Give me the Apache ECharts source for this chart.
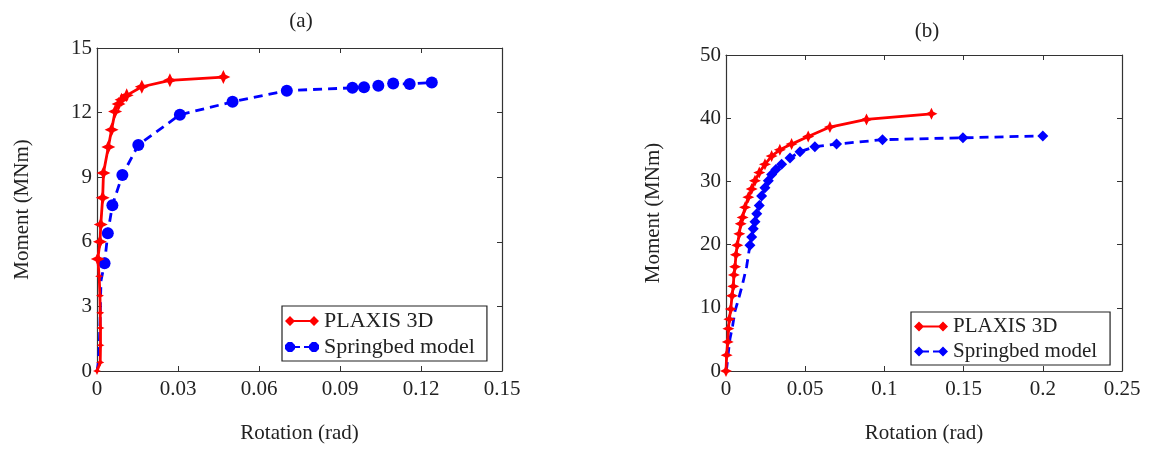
<!DOCTYPE html>
<html>
<head>
<meta charset="utf-8">
<script src="https://cdn.jsdelivr.net/npm/echarts@6/dist/echarts.min.js"></script>
<style>html,body{margin:0;padding:0;background:#fff;}#c{width:1150px;height:449px;}</style>
</head>
<body>
<div id="c"></div>
<script>
// ---- Panel (a) data ----
const plaxisA_rot = [0, 0.0012, 0.0013, 0.0013, 0.0012, 0.0011, 0.0008, 0.0003, 0.0011, 0.0014, 0.0021, 0.0024, 0.0042, 0.0054, 0.0067, 0.008, 0.0091, 0.011, 0.0166, 0.027, 0.0468];
const plaxisA_mom = [0, 0.4, 1.2, 2.0, 2.7, 3.5, 4.4, 5.2, 6.0, 6.8, 8.05, 9.2, 10.4, 11.2, 12.05, 12.4, 12.6, 12.8, 13.2, 13.5, 13.65];
const springA_rot = [0, 0.0004, 0.0008, 0.001, 0.0012, 0.0013, 0.0015, 0.0028, 0.004, 0.0057, 0.0094, 0.0153, 0.0307, 0.0502, 0.0703, 0.0946, 0.0989, 0.1042, 0.1097, 0.1158, 0.124];
const springA_mom = [0, 0.3, 1.0, 1.8, 2.6, 3.4, 4.2, 5.0, 6.4, 7.7, 9.1, 10.5, 11.9, 12.5, 13.02, 13.15, 13.18, 13.25, 13.35, 13.33, 13.4];
// ---- Panel (b) data ----
const plaxisB_rot = [0, 0.0004, 0.0011, 0.0015, 0.0021, 0.003, 0.0038, 0.0046, 0.005, 0.0057, 0.0063, 0.0071, 0.0084, 0.0093, 0.0105, 0.012, 0.0141, 0.0162, 0.0183, 0.021, 0.0246, 0.0288, 0.034, 0.0414, 0.0519, 0.0656, 0.0887, 0.1297];
const plaxisB_mom = [0, 2.5, 4.6, 6.7, 8.2, 9.8, 11.9, 13.4, 15.2, 16.5, 18.4, 19.9, 21.7, 23.3, 24.3, 25.9, 27.5, 28.8, 30.1, 31.4, 32.7, 34.0, 35.0, 35.9, 37.1, 38.6, 39.8, 40.7];
const springB_rot = [0, 0.0004, 0.0015, 0.0025, 0.0042, 0.0057, 0.0078, 0.0105, 0.013, 0.0151, 0.0162, 0.0172, 0.0183, 0.0194, 0.021, 0.0225, 0.0246, 0.0267, 0.0288, 0.0315, 0.0351, 0.0404, 0.0467, 0.0561, 0.0698, 0.0988, 0.1496, 0.2];
const springB_mom = [0, 0.4, 3.0, 5.1, 7.2, 9.5, 11.3, 13.8, 16.5, 19.9, 21.2, 22.5, 23.6, 24.9, 26.2, 27.7, 29.0, 30.1, 31.1, 31.9, 32.7, 33.7, 34.7, 35.5, 35.9, 36.6, 36.9, 37.2];
// ---- tick labels ----
const xTicksA = ['0', '0.03', '0.06', '0.09', '0.12', '0.15'];
const yTicksA = ['0', '3', '6', '9', '12', '15'];
const xTicksB = ['0', '0.05', '0.1', '0.15', '0.2', '0.25'];
const yTicksB = ['0', '10', '20', '30', '40', '50'];
const seriesNames = ['PLAXIS 3D', 'Springbed model'];
const xName = 'Rotation (rad)';
const yName = 'Moment (MNm)';

const FONT = '"Liberation Serif", "DejaVu Serif", serif';
const FS = 21;
const TXT = '#222';
const zip = (a, b) => a.map((v, i) => [v, b[i]]);
const STAR = 'path://M0,-10 L3.2,-3.2 L10,0 L3.2,3.2 L0,10 L-3.2,3.2 L-10,0 L-3.2,-3.2 Z';

function mkX(grid, max, interval, ticks, bottom) {
  return {
    type: 'value', gridIndex: grid, min: 0, max: max, interval: interval,
    position: bottom ? 'bottom' : 'top',
    name: bottom ? xName : '', nameLocation: 'middle', nameGap: 52,
    nameTextStyle: { fontFamily: FONT, fontSize: FS, color: TXT },
    axisLine: { show: true, onZero: false, lineStyle: { color: '#333', width: 1.2 } },
    axisTick: { show: true, inside: true, length: 5, lineStyle: { color: '#333' } },
    axisLabel: { show: bottom, margin: 8, fontFamily: FONT, fontSize: FS, color: TXT,
      formatter: v => ticks[Math.round(v / interval)] },
    splitLine: { show: false }
  };
}
function mkY(grid, max, interval, ticks, left, gap) {
  return {
    type: 'value', gridIndex: grid, min: 0, max: max, interval: interval,
    position: left ? 'left' : 'right',
    name: left ? yName : '', nameLocation: 'middle', nameGap: gap,
    nameTextStyle: { fontFamily: FONT, fontSize: FS, color: TXT },
    axisLine: { show: true, onZero: false, lineStyle: { color: '#333', width: 1.2 } },
    axisTick: { show: true, inside: true, length: 5, lineStyle: { color: '#333' } },
    axisLabel: { show: left, margin: 5, fontFamily: FONT, fontSize: FS, color: TXT,
      formatter: v => ticks[Math.round(v / interval)] },
    splitLine: { show: false }
  };
}

const legendIconRed = 'path://M0,6 L5,1 L10,6 L5,11 Z M24,6 L29,1 L34,6 L29,11 Z M9,5 L25,5 L25,7 L9,7 Z';
const legendIconBlueA = 'path://M3,1 L7,1 L10,4 L10,8 L7,11 L3,11 L0,8 L0,4 Z M27,1 L31,1 L34,4 L34,8 L31,11 L27,11 L24,8 L24,4 Z M10,5 L15,5 L15,7 L10,7 Z M19,5 L24,5 L24,7 L19,7 Z';
const legendIconBlueB = 'path://M0,6 L5,1 L10,6 L5,11 Z M24,6 L29,1 L34,6 L29,11 Z M9,5 L15,5 L15,7 L9,7 Z M19,5 L25,5 L25,7 L19,7 Z';

function mkLegend(left, top, blueIcon, fs, padR) {
  return {
    orient: 'vertical', left: left, top: top,
    backgroundColor: '#fff', borderColor: '#222', borderWidth: 1.2, borderRadius: 0,
    padding: [4, padR, 3, 3], itemGap: 4, itemWidth: 34, itemHeight: 12,
    textStyle: { fontFamily: FONT, fontSize: fs, color: TXT },
    data: [{ name: seriesNames[0], icon: legendIconRed, itemStyle: { color: '#ff0000' } },
           { name: seriesNames[1], icon: blueIcon, itemStyle: { color: '#0000ff' } }]
  };
}

const option = {
  animation: false,
  backgroundColor: '#fff',
  title: [
    { text: '(a)', left: 296, top: 6, textAlign: 'center', textStyle: { fontFamily: FONT, fontSize: FS, fontWeight: 'normal', color: TXT } },
    { text: '(b)', left: 922, top: 16, textAlign: 'center', textStyle: { fontFamily: FONT, fontSize: FS, fontWeight: 'normal', color: TXT } }
  ],
  grid: [
    { left: 97, right: 648, top: 48, bottom: 75, containLabel: false },
    { left: 726, right: 28, top: 55, bottom: 73, containLabel: false }
  ],
  xAxis: [
    mkX(0, 0.15, 0.03, xTicksA, true), mkX(0, 0.15, 0.03, xTicksA, false),
    mkX(1, 0.25, 0.05, xTicksB, true), mkX(1, 0.25, 0.05, xTicksB, false)
  ],
  yAxis: [
    mkY(0, 15, 3, yTicksA, true, 64), mkY(0, 15, 3, yTicksA, false, 0),
    mkY(1, 50, 10, yTicksB, true, 62), mkY(1, 50, 10, yTicksB, false, 0)
  ],
  legend: [
    mkLegend(282, 306, legendIconBlueA, 22, 12),
    mkLegend(911, 312, legendIconBlueB, 21, 13)
  ],
  series: [
    { name: seriesNames[1], type: 'line', xAxisIndex: 0, yAxisIndex: 0, data: zip(springA_rot, springA_mom),
      symbol: 'circle', symbolSize: v => v[1] >= 4.9 ? 12 : 0, showAllSymbol: true,
      lineStyle: { color: '#0000ff', width: 2.8, type: [9, 6] }, itemStyle: { color: '#0000ff' }, z: 2 },
    { name: seriesNames[0], type: 'line', xAxisIndex: 0, yAxisIndex: 0, data: zip(plaxisA_rot, plaxisA_mom),
      symbol: STAR, symbolSize: v => v[1] >= 5 ? 14 : 8, showAllSymbol: true,
      lineStyle: { color: '#ff0000', width: 2.8 }, itemStyle: { color: '#ff0000' }, z: 3 },
    { name: seriesNames[1], type: 'line', xAxisIndex: 2, yAxisIndex: 2, data: zip(springB_rot, springB_mom),
      symbol: 'diamond', symbolSize: v => v[1] >= 19 ? 11 : 0, showAllSymbol: true,
      lineStyle: { color: '#0000ff', width: 2.8, type: [9, 6] }, itemStyle: { color: '#0000ff' }, z: 2 },
    { name: seriesNames[0], type: 'line', xAxisIndex: 2, yAxisIndex: 2, data: zip(plaxisB_rot, plaxisB_mom),
      symbol: STAR, symbolSize: 12, showAllSymbol: true,
      lineStyle: { color: '#ff0000', width: 2.8 }, itemStyle: { color: '#ff0000' }, z: 3 }
  ]
};
const chart = echarts.init(document.getElementById('c'), null, { renderer: 'canvas' });
chart.setOption(option);
</script>
</body>
</html>
